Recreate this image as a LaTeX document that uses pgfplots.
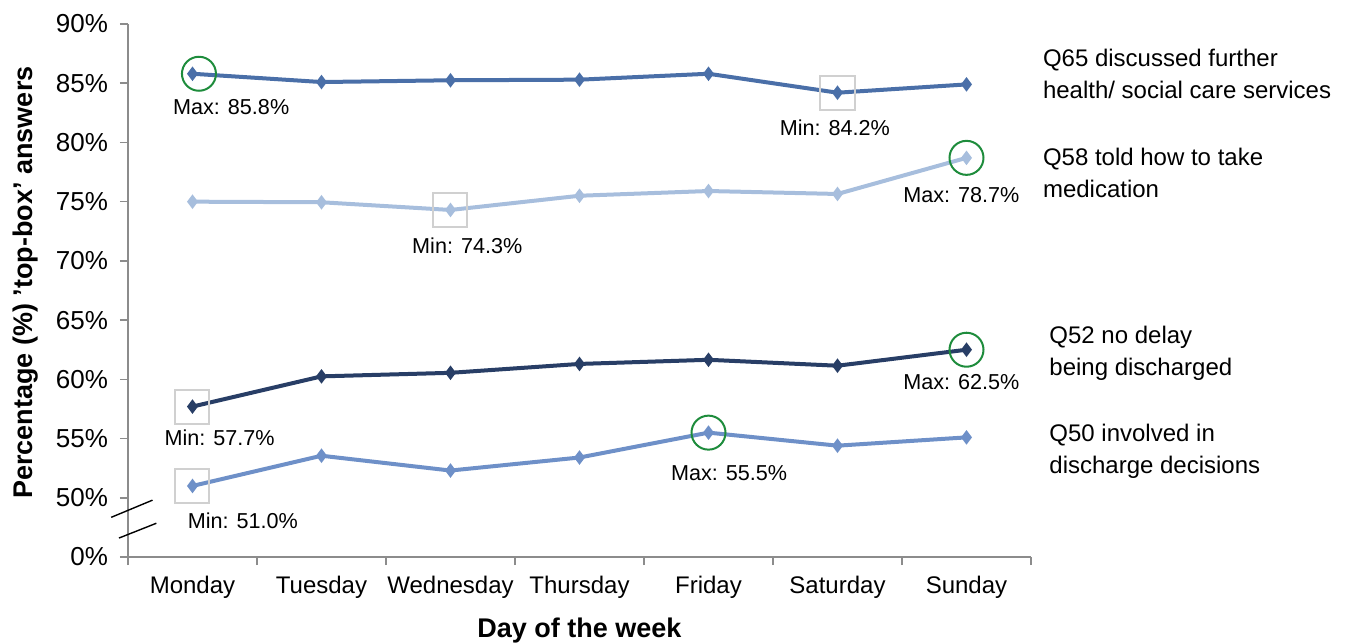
\documentclass[border=0pt]{standalone}
\usepackage{pgfplots}
\pgfplotsset{compat=1.18}
\usepackage{fontspec}
\setmainfont{Liberation Sans}
\definecolor{cQ65}{HTML}{4A6FA8}
\definecolor{cQ58}{HTML}{A7BEDD}
\definecolor{cQ52}{HTML}{283E66}
\definecolor{cQ50}{HTML}{6E90C8}
\definecolor{axgray}{HTML}{8C8C8C}
\definecolor{mingray}{HTML}{D0D0D0}
\definecolor{maxgreen}{HTML}{1E8C3C}
\begin{document}
\begin{tikzpicture}
\useasboundingbox (-64pt,-43pt) rectangle (609.5pt,278.5pt);
\begin{axis}[
  scale only axis, width=451.5pt, height=266.5pt,
  at={(0pt,0pt)}, anchor=south west,
  xmin=-0.5, xmax=6.5, ymin=45, ymax=90,
  axis x line*=bottom, axis y line*=left,
  axis line style={axgray, line width=0.8pt, -},
  xtick={0,...,6},
  xticklabels={Monday,Tuesday,Wednesday,Thursday,Friday,Saturday,Sunday},
  major x tick style={draw=none},
  minor xtick={-0.5,0.5,...,6.5},
  minor x tick style={axgray, line width=0.8pt},
  minor tick length=4pt,
  ytick={45,50,55,60,65,70,75,80,85,90},
  yticklabels={0\%,50\%,55\%,60\%,65\%,70\%,75\%,80\%,85\%,90\%},
  major y tick style={axgray, line width=0.8pt},
  major tick length=4pt,
  tick align=outside,
  xticklabel style={font=\fontsize{12}{14}\selectfont, yshift=-2pt},
  yticklabel style={font=\fontsize{13}{14}\selectfont, xshift=-2.5pt},
  /pgf/number format/assume math mode=true,
  xlabel={Day of the week},
  ylabel={Percentage (\%) 'top-box' answers},
  xlabel style={font=\bfseries\fontsize{13.5}{15}\selectfont, yshift=-3pt},
  ylabel style={font=\bfseries\fontsize{13.5}{15}\selectfont, yshift=2pt, xshift=4pt},
  clip=false,
  every axis plot/.append style={line width=2pt, mark=diamond*, mark size=2pt},
]
\addplot[cQ65, mark options={fill=cQ65}] coordinates {(0,85.8) (1,85.1) (2,85.25) (3,85.3) (4,85.8) (5,84.2) (6,84.9)};
\addplot[cQ58, mark options={fill=cQ58}] coordinates {(0,75.0) (1,74.95) (2,74.3) (3,75.5) (4,75.9) (5,75.65) (6,78.7)};
\addplot[cQ52, mark options={fill=cQ52}] coordinates {(0,57.7) (1,60.25) (2,60.55) (3,61.3) (4,61.65) (5,61.15) (6,62.5)};
\addplot[cQ50, mark options={fill=cQ50}] coordinates {(0,51.0) (1,53.55) (2,52.3) (3,53.4) (4,55.5) (5,54.4) (6,55.1)};

% max circles
\draw[maxgreen, line width=1pt] (axis cs:0.05,85.8) circle[radius=8.5pt];
\draw[maxgreen, line width=1pt] (axis cs:6,78.7) circle[radius=8.5pt];
\draw[maxgreen, line width=1pt] (axis cs:6,62.5) circle[radius=8.5pt];
\draw[maxgreen, line width=1pt] (axis cs:4,55.5) circle[radius=8.5pt];
% min squares
\draw[mingray, line width=1pt] (axis cs:5,84.2) ++(-8.5pt,-8.5pt) rectangle ++(17pt,17pt);
\draw[mingray, line width=1pt] (axis cs:2,74.3) ++(-8.5pt,-8.5pt) rectangle ++(17pt,17pt);
\draw[mingray, line width=1pt] (axis cs:0,57.7) ++(-8.5pt,-8.5pt) rectangle ++(17pt,17pt);
\draw[mingray, line width=1pt] (axis cs:0,51.0) ++(-8.5pt,-8.5pt) rectangle ++(17pt,17pt);

\begin{scope}[every node/.style={font=\fontsize{10.8}{12}\selectfont}]
\node at (axis cs:0.30,83.0) {Max: 85.8\%};
\node at (axis cs:4.98,81.2) {Min: 84.2\%};
\node at (axis cs:5.96,75.6) {Max: 78.7\%};
\node at (axis cs:2.13,71.3) {Min: 74.3\%};
\node at (axis cs:0.21,55.1) {Min: 57.7\%};
\node at (axis cs:5.96,59.8) {Max: 62.5\%};
\node at (axis cs:4.16,52.1) {Max: 55.5\%};
\node at (axis cs:0.39,48.1) {Min: 51.0\%};
\end{scope}

\begin{scope}[every node/.style={font=\fontsize{12}{16}\selectfont, anchor=west, align=left, inner sep=0pt}]
\node at (axis cs:6.59,85.75) {Q65 discussed further\\health/ social care services};
\node at (axis cs:6.59,77.4) {Q58 told how to take\\medication};
\node at (axis cs:6.64,62.2) {Q52 no delay\\being discharged};
\node at (axis cs:6.64,53.9) {Q50 involved in\\discharge decisions};
\end{scope}

% axis break
\draw[black, line width=0.7pt] (axis cs:-0.63,48.35) -- (axis cs:-0.31,49.8);
\draw[black, line width=0.7pt] (axis cs:-0.57,46.6) -- (axis cs:-0.28,47.85);
\end{axis}
\end{tikzpicture}
\end{document}
